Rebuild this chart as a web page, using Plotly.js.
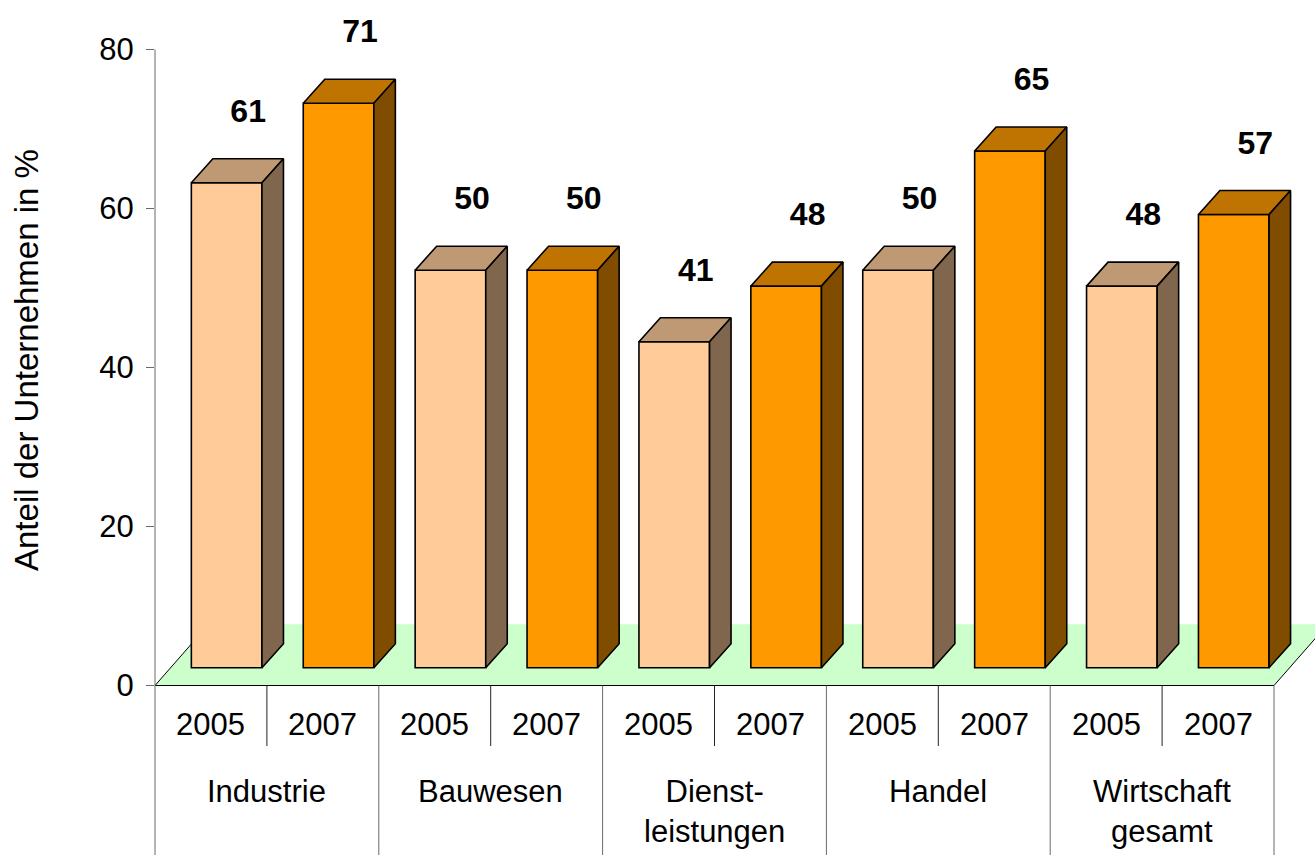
<!DOCTYPE html>
<html>
<head>
<meta charset="utf-8">
<script src="https://cdn.plot.ly/plotly-3.0.1.min.js"></script>
<style>html,body{margin:0;padding:0;background:#fff;}#chart{width:1315px;height:855px;}</style>
</head>
<body>
<div id="chart"></div>
<script>
// ---- data ----
const categories = ['Industrie', 'Bauwesen', 'Dienst-<br>leistungen', 'Handel', 'Wirtschaft<br>gesamt'];
const years = ['2005', '2007'];
const values2005 = [61, 50, 41, 50, 48];
const values2007 = [71, 50, 48, 65, 57];
const yTicks = [0, 20, 40, 60, 80];

// ---- styling / geometry (pixels converted to axis units) ----
const W = 1315, H = 855, ML = 155;
const PX = 111.9;           // px per category cell
const PY = 7.95;            // px per percent
const Y0PX = 685.5;         // pixel row of value 0
const yMax = Y0PX / PY, yMin = -(H - Y0PX) / PY;
const xMax = (W - ML) / PX;
const dxF = 15.7 / PX, dyF = 17.8 / PY;   // bar front plane offset from floor front
const ddx = 21.5 / PX, ddy = 24 / PY;     // bar depth
const fdx = 53.7 / PX, fdy = 61.2 / PY;   // floor depth
const hw = 35.3 / PX;                      // half bar width
const FONT = 'Liberation Sans, Arial, sans-serif';
const colors = {
  '2005': {front: '#FFCC99', top: '#BF9973', side: '#80664D'},
  '2007': {front: '#FF9900', top: '#BF7300', side: '#804D00'}
};

const bars = [];
categories.forEach((c, g) => {
  [values2005[g], values2007[g]].forEach((v, s) => {
    bars.push({cell: 2 * g + s, year: years[s], value: v});
  });
});

const traces = [];
// top & side faces
bars.forEach(b => {
  const xc = b.cell + 0.5 + dxF;
  const yb = dyF, yt = dyF + b.value;
  const col = colors[b.year];
  traces.push({
    type: 'scatter', mode: 'lines', fill: 'toself', fillcolor: col.top,
    x: [xc - hw, xc + hw, xc + hw + ddx, xc - hw + ddx, xc - hw],
    y: [yt, yt, yt + ddy, yt + ddy, yt],
    line: {width: 1.6, color: '#000'}, hoverinfo: 'skip', showlegend: false
  });
  traces.push({
    type: 'scatter', mode: 'lines', fill: 'toself', fillcolor: col.side,
    x: [xc + hw, xc + hw + ddx, xc + hw + ddx, xc + hw, xc + hw],
    y: [yb, yb + ddy, yt + ddy, yt, yb],
    line: {width: 1.6, color: '#000'}, hoverinfo: 'skip', showlegend: false
  });
});
// value labels
traces.push({
  type: 'scatter', mode: 'text',
  x: bars.map(b => b.cell + 0.5 + dxF + ddx),
  y: bars.map(b => dyF + b.value + ddy + 45 / PY),
  text: bars.map(b => String(b.value)),
  textfont: {family: FONT, size: 32, color: '#000', weight: 'bold'},
  textposition: 'middle center', hoverinfo: 'skip', showlegend: false
});
// front faces (bars)
years.forEach(yr => {
  const bs = bars.filter(b => b.year === yr);
  traces.push({
    type: 'bar', name: yr,
    x: bs.map(b => b.cell + 0.5 + dxF),
    y: bs.map(b => b.value),
    base: bs.map(() => dyF),
    width: bs.map(() => 2 * hw),
    marker: {color: colors[yr].front, line: {color: '#000', width: 1.6}},
    hoverinfo: 'skip', showlegend: false
  });
});

const shapes = [];
// floor (below all traces)
shapes.push({type: 'path', xref: 'x', yref: 'y', layer: 'below',
  path: `M0,0 L10,0 L${10 + fdx},${fdy} L${fdx},${fdy} Z`,
  fillcolor: '#CCFFCC', line: {width: 0}});
shapes.push({type: 'path', xref: 'x', yref: 'y', layer: 'below',
  path: `M${fdx},${fdy} L0,0 L10,0 L${10 + fdx},${fdy}`,
  line: {width: 1, color: '#000'}});
// y axis line
shapes.push({type: 'line', xref: 'paper', yref: 'y', x0: 0, x1: 0, y0: 80, y1: yMin,
  line: {color: '#6a6a6a', width: 1}, layer: 'above'});
// table separators
for (let k = 1; k <= 10; k++) {
  const isGroup = k % 2 === 0;
  shapes.push({type: 'line', xref: 'x', yref: 'y', x0: k, x1: k, y0: 0,
    y1: isGroup ? yMin : -(746 - Y0PX) / PY,
    line: {color: isGroup ? '#6a6a6a' : '#222', width: 1}, layer: 'above'});
}

const annotations = [];
bars.forEach(b => {
  annotations.push({xref: 'x', yref: 'y', x: b.cell + 0.5, y: -(724.5 - Y0PX) / PY,
    text: b.year, showarrow: false, xanchor: 'center', yanchor: 'middle',
    font: {family: FONT, size: 31, color: '#000'}});
});
categories.forEach((c, g) => {
  annotations.push({xref: 'x', yref: 'y', x: 2 * g + 1, y: -(772 - Y0PX) / PY,
    text: c, showarrow: false, xanchor: 'center', yanchor: 'top', align: 'center',
    font: {family: FONT, size: 31, color: '#000'}});
});
annotations.push({xref: 'paper', yref: 'paper', x: (26 - ML) / (W - ML), y: (H - 360) / H,
  text: 'Anteil der Unternehmen in %', textangle: -90, showarrow: false,
  xanchor: 'center', yanchor: 'middle', font: {family: FONT, size: 33, color: '#000'}});

const layout = {
  width: W, height: H,
  margin: {l: ML, r: 0, t: 0, b: 0, pad: 0},
  paper_bgcolor: '#fff', plot_bgcolor: '#fff',
  showlegend: false, hovermode: false, barmode: 'overlay',
  xaxis: {range: [0, xMax], visible: false, fixedrange: true},
  yaxis: {range: [yMin, yMax], tickvals: yTicks, ticktext: yTicks.map(String),
    showgrid: false, zeroline: false, showline: false,
    ticks: 'outside', ticklen: 8, tickwidth: 1, tickcolor: '#6a6a6a',
    ticklabelstandoff: 6,
    tickfont: {family: FONT, size: 31, color: '#000'}, fixedrange: true},
  shapes: shapes, annotations: annotations
};

Plotly.newPlot('chart', traces, layout, {displayModeBar: false, staticPlot: true});
</script>
</body>
</html>
